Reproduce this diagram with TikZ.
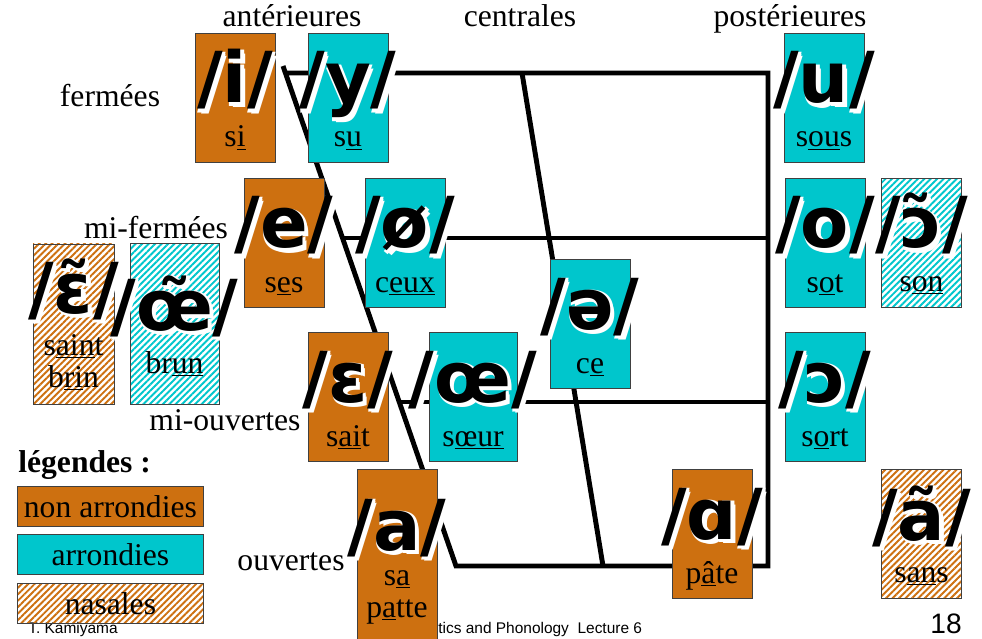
\documentclass[tikz,border=0pt]{standalone}
\usepackage{fontspec}
\setmainfont{Liberation Serif}
\newfontfamily\ipafont{DejaVu Sans}
\newfontfamily\footfont{Liberation Sans}
\usetikzlibrary{positioning,calc,patterns.meta}
\definecolor{orangev}{RGB}{205,112,16}
\definecolor{cyanv}{RGB}{0,198,204}
\newcommand{\glow}[1]{%
  \rlap{\textcolor{white}{\hspace{2.4pt}\raisebox{-2.4pt}{#1}}}%
  \rlap{\textcolor{white}{\hspace{1.6pt}\raisebox{-1.6pt}{#1}}}%
  \rlap{\textcolor{white}{\hspace{0.8pt}\raisebox{-0.8pt}{#1}}}%
  \rlap{\textcolor{white}{\hspace{0.4pt}\raisebox{-1.8pt}{#1}}}%
  \rlap{\textcolor{white}{\hspace{1.8pt}\raisebox{-0.4pt}{#1}}}#1}
\tikzset{
  vbox/.style={draw=black!75, line width=0.5pt, minimum width=1.6cm, minimum height=2.58cm, inner sep=0pt, anchor=north},
  nonr/.style={fill=orangev},
  rond/.style={fill=cyanv},
  nasal/.style={pattern={Lines[angle=45,distance=2.6pt,line width=1.1pt]}, pattern color=#1},
  ipa/.style={font=\ipafont\bfseries\fontsize{40}{46}\selectfont, anchor=base, inner sep=0pt},
  word/.style={font=\fontsize{18}{20}\selectfont, anchor=base, inner sep=0pt},
  lab/.style={font=\fontsize{18}{20}\selectfont, anchor=base, inner sep=0pt},
  legbox/.style={draw=black!75, line width=0.5pt, minimum width=3.72cm, minimum height=0.8cm, inner sep=0pt, anchor=north west, font=\fontsize{18}{20}\selectfont},
  chart/.style={line width=2.8pt, line join=miter},
  foot/.style={font=\footfont\fontsize{8.8}{10}\selectfont, anchor=base west, inner sep=0pt}
}

\begin{document}
\begin{tikzpicture}[x=0.02cm,y=-0.02cm]
  \useasboundingbox (0,0) rectangle (982,638);
  % Chart
  \coordinate (ftop) at (283,66);
  \coordinate (fbot) at (456,566);
  \coordinate (bbot) at (768,566);
  \coordinate (btop) at (768,73);
  \draw[chart] (ftop) -- (fbot) -- (bbot) -- (btop) -- (287,73);
  \draw[chart] (522,73) -- (603,566);
  \draw[chart] (342,238) -- (btop |- 0,238);
  \draw[chart] (399,402) -- (btop |- 0,402);
  % Column and row labels
  \node[lab] (ant) at (292,27) {antérieures};
  \node[lab] (cen) at (520,27) {centrales};
  \node[lab] (pos) at (790,27) {postérieures};
  \node[lab] (ferm) at (110,107) {fermées};
  \node[lab] (mferm) at (156,238) {mi-fermées};
  \node[lab] (mouv) at (225,430) {mi-ouvertes};
  \node[lab] (ouv) at (291,570) {ouvertes};
  % Footer
  \node[foot] (auth) at (28,633) {T. Kamiyama};
  \node[foot] (lect) at (438,633) {tics and Phonology\ \ Lecture 6};
  \node[anchor=base east, inner sep=0pt, font=\footfont\fontsize{16}{18}\selectfont] (page) at (962,633) {18};
  % Oral vowels
  \foreach \nm/\cx/\ty/\st/\gl/\wo in {
      i/235/33/nonr/i/{s\underline{i}},
      y/348/33/rond/y/{s\underline{u}},
      u/824/33/rond/u/{s\underline{ou}s},
      e/284/178/nonr/e/{s\underline{e}s},
      oo/405/178/rond/ø/{c\underline{eux}},
      o/825/178/rond/o/{s\underline{o}t},
      schwa/590/259/rond/ə/{c\underline{e}},
      E/348/332/nonr/ɛ/{s\underline{ai}t},
      O/825/332/rond/ɔ/{s\underline{o}rt},
      A/712/469/nonr/ɑ/{p\underline{â}te}} {
    \node[vbox,\st] (\nm) at (\cx,\ty) {};
    \node[ipa] (g\nm) at ($(\nm.north)+(0,70)$) {\glow{/\gl/}};
    \node[word] (w\nm) at ($(\nm.north)+(0,114)$) {\wo};
  }
  \node[vbox,rond,minimum width=1.76cm] (OE) at (473,332) {};
  \node[ipa] (gOE) at ($(OE.north)+(0,70)$) {\glow{/œ/}};
  \node[word] (wOE) at ($(OE.north)+(0,114)$) {s\underline{œur}};
  \node[vbox,nonr,minimum height=3.42cm] (a) at (397,469) {};
  \node[ipa] (ga) at ($(a.north)+(0,81)$) {\glow{/a/}};
  \node[word] (wa1) at ($(a.north)+(0,116)$) {s\underline{a}};
  \node[word] (wa2) at ($(a.north)+(0,148)$) {p\underline{a}tte};
  % Nasal vowels
  \node[vbox,nasal=orangev,minimum width=1.62cm,minimum height=3.22cm] (Enas) at (73.5,243) {};
  \node[ipa] (gEnas) at ($(Enas.north)+(0,70)$) {\glow{/ɛ̃/}};
  \node[word] (wEnas1) at ($(Enas.north)+(0,112)$) {s\underline{ain}t};
  \node[word] (wEnas2) at ($(Enas.north)+(0,144)$) {b\underline{ri}n};
  \node[vbox,nasal=cyanv,minimum width=1.78cm,minimum height=3.22cm] (OEnas) at (174.5,243) {};
  \node[ipa] (gOEnas) at ($(OEnas.north)+(0,87)$) {\glow{/œ̃/}};
  \node[word] (wOEnas) at ($(OEnas.north)+(0,130)$) {br\underline{un}};
  \node[vbox,nasal=cyanv] (Onas) at (921.5,178) {};
  \node[ipa] (gOnas) at ($(Onas.north)+(0,70)$) {\glow{/ɔ̃/}};
  \node[word] (wOnas) at ($(Onas.north)+(0,113)$) {s\underline{on}};
  \node[vbox,nasal=orangev] (Anas) at (921.5,469) {};
  \node[ipa] (gAnas) at ($(Anas.north)+(0,71)$) {\glow{/ã/}};
  \node[word] (wAnas) at ($(Anas.north)+(0,113)$) {s\underline{an}s};
  % Legend
  \node[lab, anchor=base west, font=\bfseries\fontsize{18}{20}\selectfont] (leg) at (18,472) {légendes :};
  \node[legbox, fill=orangev] (lnonr) at (17,486) {non arrondies};
  \node[legbox, fill=cyanv] (lrond) at (17,534) {arrondies};
  \node[legbox, nasal=orangev] (lnas) at (17,583) {nasales};
\end{tikzpicture}
\end{document}
